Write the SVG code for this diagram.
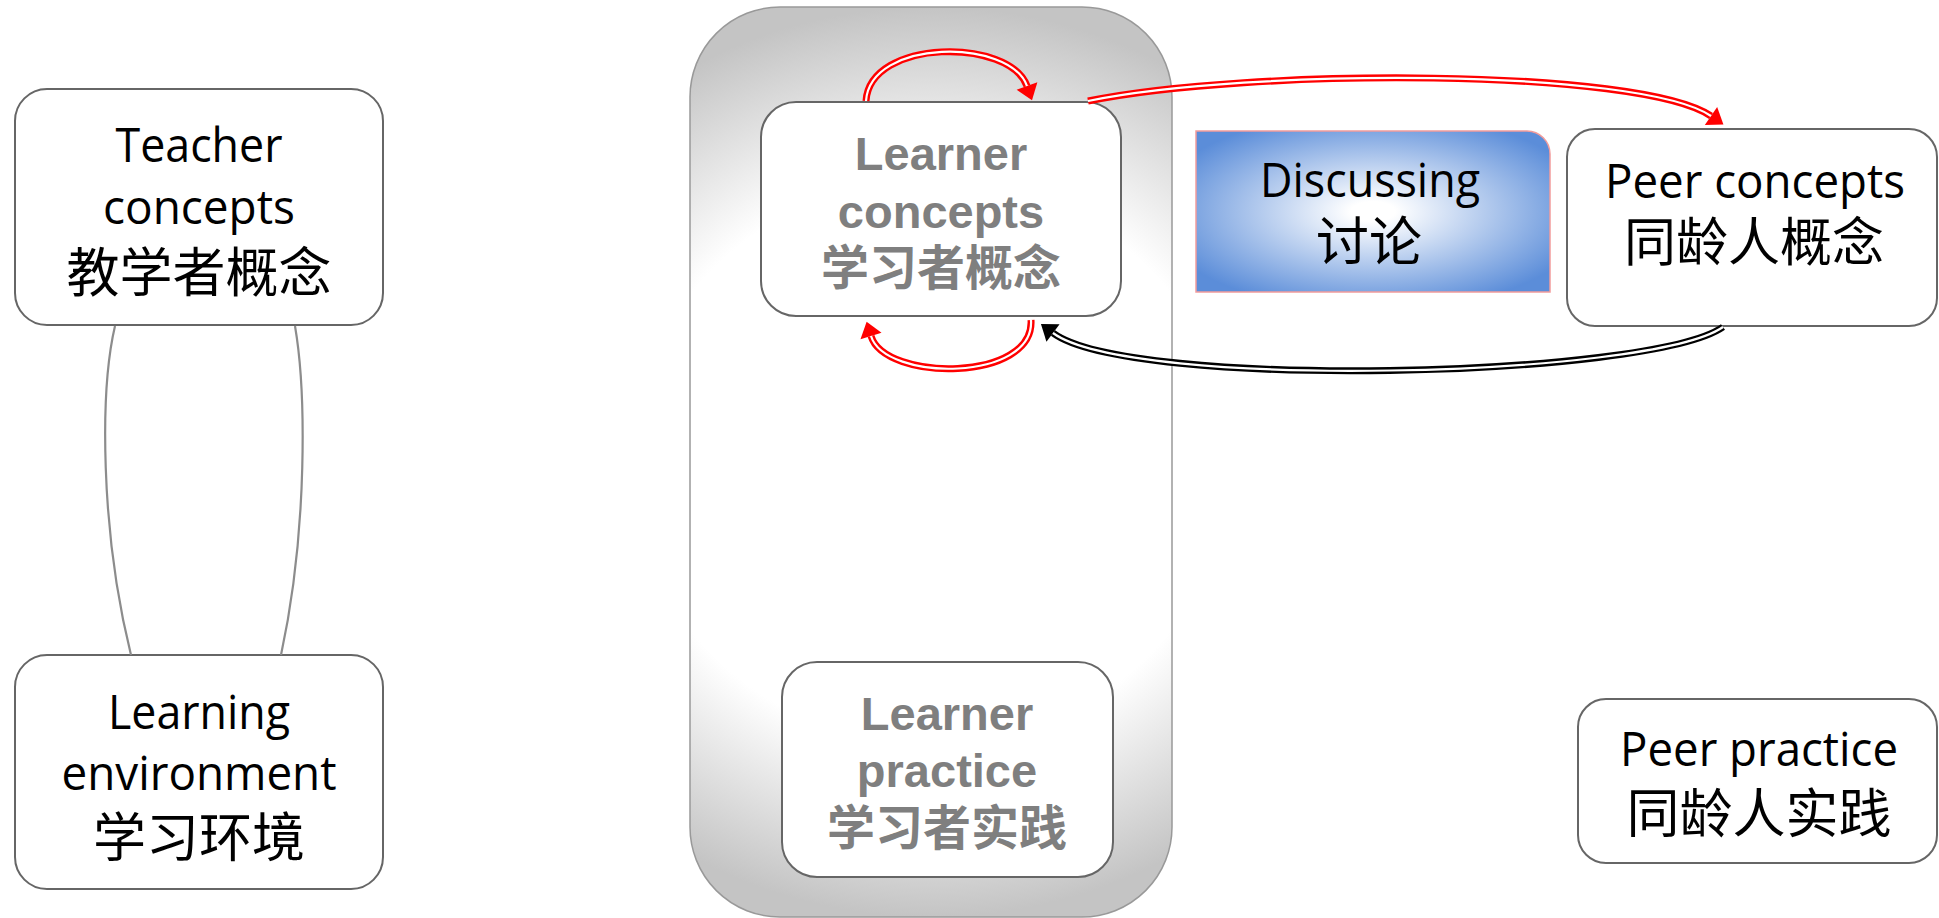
<svg xmlns="http://www.w3.org/2000/svg" width="1939" height="918" viewBox="0 0 1939 918">
<defs>
<radialGradient id="gCont" cx="0.5" cy="0.5" r="0.5" gradientTransform="translate(0.5,0.5) scale(2,1) translate(-0.5,-0.5)">
<stop offset="0" stop-color="#ffffff"/>
<stop offset="0.62" stop-color="#ffffff"/>
<stop offset="1" stop-color="#c4c4c4"/>
</radialGradient>
<radialGradient id="gDisc" cx="0.5" cy="0.5" r="0.62">
<stop offset="0" stop-color="#ffffff"/>
<stop offset="0.1" stop-color="#ffffff"/>
<stop offset="1" stop-color="#5b8dd9"/>
</radialGradient>
<marker id="arR" markerUnits="userSpaceOnUse" markerWidth="16" markerHeight="24" viewBox="0 -12 16 24" refX="0" refY="0" orient="auto" overflow="visible">
<path d="M0,-11 L15,0 L0,11 Z" fill="#ff0000"/>
</marker>
<marker id="arK" markerUnits="userSpaceOnUse" markerWidth="16" markerHeight="24" viewBox="0 -12 16 24" refX="0" refY="0" orient="auto" overflow="visible">
<path d="M0,-11 L15,0 L0,11 Z" fill="#000000"/>
</marker>
</defs>
<style>
.box{fill:#ffffff;stroke:#666666;stroke-width:2}
.en{font-family:"Open Sans","Noto Sans",sans-serif;font-size:48px;fill:#000;text-anchor:middle}
.zh{font-family:"Noto Sans CJK SC","Noto Sans",sans-serif;font-size:53px;fill:#000;text-anchor:middle}
.ben{font-family:"Liberation Sans",Arial,sans-serif;font-weight:bold;font-size:47px;fill:#7f7f7f;text-anchor:middle}
.bzh{font-family:"Noto Sans CJK SC",sans-serif;font-weight:bold;font-size:48px;fill:#7f7f7f;text-anchor:middle}
.ro{fill:none;stroke:#ff0000;stroke-width:7}
.ko{fill:none;stroke:#000000;stroke-width:7}
.wi{fill:none;stroke:#ffffff;stroke-width:2.2}
.gl{fill:none;stroke:#8c8c8c;stroke-width:2.2}
</style>
<rect width="1939" height="918" fill="#ffffff"/>

<g id="learner-container">
<rect x="690" y="7" width="482" height="910" rx="90" ry="90" fill="url(#gCont)" stroke="#999999" stroke-width="1.5"/>
</g>

<g id="teacher-concepts">
<rect class="box" x="15" y="89" width="368" height="236" rx="32"/>
<text class="en" x="199" y="162" textLength="167" lengthAdjust="spacingAndGlyphs">Teacher</text>
<text class="en" x="199" y="224" textLength="192" lengthAdjust="spacingAndGlyphs">concepts</text>
<text class="zh" x="199" y="292">教学者概念</text>
</g>

<g id="learning-environment">
<rect class="box" x="15" y="655" width="368" height="234" rx="32"/>
<text class="en" x="199" y="729" textLength="182" lengthAdjust="spacingAndGlyphs">Learning</text>
<text class="en" x="199" y="790" textLength="275" lengthAdjust="spacingAndGlyphs">environment</text>
<text class="zh" x="199" y="857">学习环境</text>
</g>

<g id="learner-concepts">
<rect class="box" x="761" y="102" width="360" height="214" rx="35"/>
<text class="ben" x="941" y="170">Learner</text>
<text class="ben" x="941" y="228">concepts</text>
<text class="bzh" x="941" y="285">学习者概念</text>
</g>

<g id="learner-practice">
<rect class="box" x="782" y="662" width="331" height="215" rx="35"/>
<text class="ben" x="947" y="730">Learner</text>
<text class="ben" x="947" y="787">practice</text>
<text class="bzh" x="947" y="845">学习者实践</text>
</g>

<g id="discussing">
<path d="M1196,131 H1527 A23,23 0 0 1 1550,154 V292 H1196 Z" fill="url(#gDisc)" stroke="#f29c9c" stroke-width="1.5"/>
<text class="en" x="1370" y="197" textLength="220" lengthAdjust="spacingAndGlyphs">Discussing</text>
<text class="zh" x="1369" y="261">讨论</text>
</g>

<g id="peer-concepts">
<rect class="box" x="1567" y="129" width="370" height="197" rx="28"/>
<text class="en" x="1755" y="198" textLength="300" lengthAdjust="spacingAndGlyphs">Peer concepts</text>
<text class="zh" x="1754" y="261" style="font-size:52px">同龄人概念</text>
</g>

<g id="peer-practice">
<rect class="box" x="1578" y="699" width="359" height="164" rx="28"/>
<text class="en" x="1759" y="766" textLength="278" lengthAdjust="spacingAndGlyphs">Peer practice</text>
<text class="zh" x="1759" y="833">同龄人实践</text>
</g>

<g id="connectors">
<path class="gl" d="M115,326 C100,390 100,530 131,655"/>
<path class="gl" d="M295,326 C306,390 308,530 281,655"/>

<path class="ro" d="M866,101 C870,38 1010,38 1027,86" marker-end="url(#arR)"/>
<path class="wi" d="M866,101 C870,38 1010,38 1027,86"/>

<path class="ro" d="M1031,320 C1035,382 885,382 871,336" marker-end="url(#arR)"/>
<path class="wi" d="M1031,320 C1035,382 885,382 871,336"/>

<path class="ro" d="M1088,101 C1250,68 1640,68 1711,116" marker-end="url(#arR)"/>
<path class="wi" d="M1088,101 C1250,68 1640,68 1711,116"/>

<path class="ko" d="M1723,327 C1650,378 1130,390 1053,333" marker-end="url(#arK)"/>
<path class="wi" d="M1723,327 C1650,378 1130,390 1053,333"/>
</g>
</svg>
